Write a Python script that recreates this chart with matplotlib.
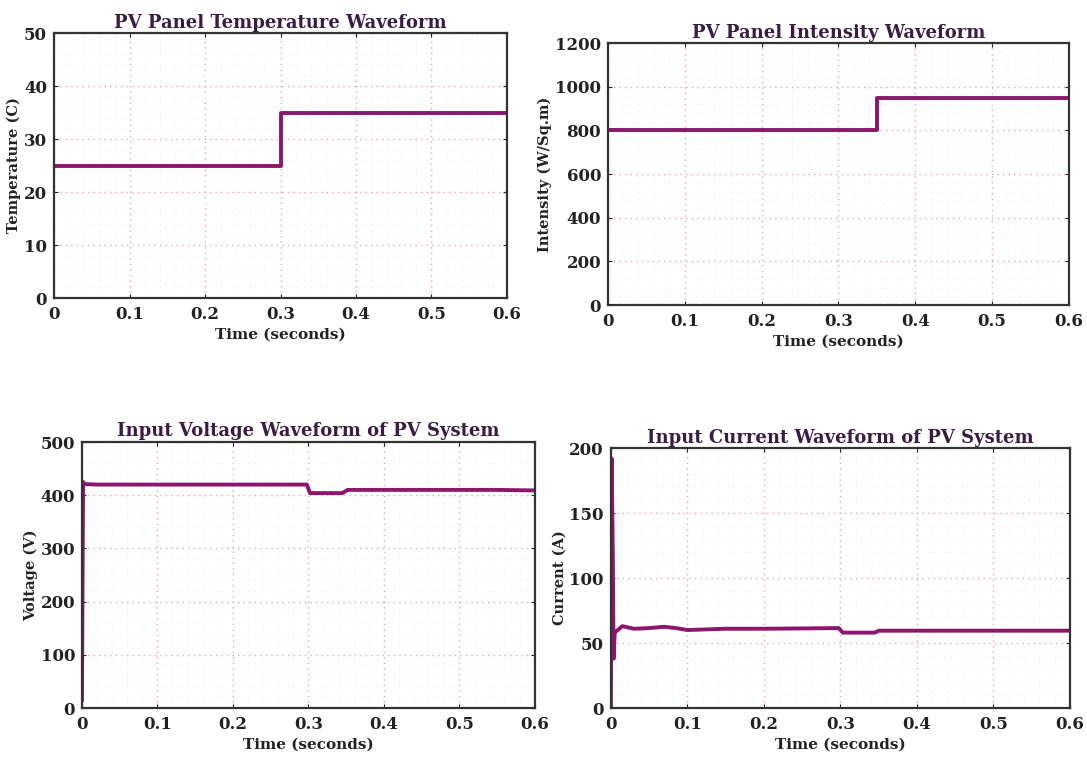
import matplotlib
matplotlib.use("Agg")
import matplotlib.pyplot as plt
from matplotlib.ticker import MultipleLocator

# temperature step
temp_t = [0, 0.3, 0.3, 0.6]
temp_v = [25, 25, 35, 35]

# irradiance step
int_t = [0, 0.35, 0.35, 0.6]
int_v = [800, 800, 950, 950]

# input voltage
volt_t = [0, 0.0015, 0.003, 0.02, 0.1, 0.2, 0.298, 0.302, 0.345, 0.352, 0.45, 0.55, 0.6]
volt_v = [15, 425, 421, 420, 420, 420, 420, 404, 404, 410, 410, 410, 409]

# input current
curr_t = [0, 0.001, 0.0025, 0.0035, 0.005, 0.015, 0.03, 0.05, 0.07, 0.085, 0.1, 0.15, 0.2,
          0.298, 0.303, 0.345, 0.35, 0.45, 0.6]
curr_v = [0, 192, 120, 38, 58, 63, 61, 61.5, 62.5, 61.5, 60, 61, 61,
          61.5, 58, 58, 59.5, 59.5, 59.5]

x_ticks = [0, 0.1, 0.2, 0.3, 0.4, 0.5, 0.6]
x_labels = ["0", "0.1", "0.2", "0.3", "0.4", "0.5", "0.6"]

LINE = "#8c166e"
TXT = "#222222"
TITLE = "#3a1d45"
FONT = "DejaVu Serif"

plt.rcParams["font.family"] = FONT
plt.rcParams["font.weight"] = "bold"

fig = plt.figure(figsize=(10.87, 7.57), dpi=100)


def style(ax, title, ylabel, ymax, ystep):
    ax.set_xlim(0, 0.6)
    ax.set_ylim(0, ymax)
    ax.set_xticks(x_ticks)
    ax.set_xticklabels(x_labels)
    ax.yaxis.set_major_locator(MultipleLocator(ystep))
    ax.xaxis.set_minor_locator(MultipleLocator(0.02))
    ax.yaxis.set_minor_locator(MultipleLocator(ystep / 5))
    ax.grid(which="major", linestyle=(0, (1, 3)), color="#e3a3bb", linewidth=1.0)
    ax.grid(which="minor", linestyle=(0, (1, 4)), color="#f6eef2", linewidth=0.8)
    ax.set_axisbelow(True)
    ax.tick_params(which="both", direction="in", top=True, right=True,
                   labelsize=12, colors=TXT)
    ax.tick_params(axis="x", pad=6)
    ax.tick_params(axis="y", pad=5)
    ax.tick_params(which="minor", length=0)
    ax.tick_params(which="major", length=3)
    for s in ax.spines.values():
        s.set_linewidth(1.6)
        s.set_color("#333333")
    ax.set_title(title, fontsize=13, fontweight="bold", color=TITLE, pad=4)
    ax.set_xlabel("Time (seconds)", fontsize=11, fontweight="bold", color=TXT, labelpad=3)
    ax.set_ylabel(ylabel, fontsize=10.5, fontweight="bold", color=TXT, labelpad=2)


ax1 = fig.add_axes([0.0497, 0.6063, 0.4167, 0.350])
ax1.plot(temp_t, temp_v, color=LINE, linewidth=2.8)
style(ax1, "PV Panel Temperature Waveform", "Temperature (C)", 50, 10)

ax2 = fig.add_axes([0.5593, 0.597, 0.424, 0.346])
ax2.plot(int_t, int_v, color=LINE, linewidth=2.8)
style(ax2, "PV Panel Intensity Waveform", "Intensity (W/Sq.m)", 1200, 200)

ax3 = fig.add_axes([0.0754, 0.0647, 0.4167, 0.3514])
ax3.plot(volt_t, volt_v, color=LINE, linewidth=2.8)
style(ax3, "Input Voltage Waveform of PV System", "Voltage (V)", 500, 100)

ax4 = fig.add_axes([0.562, 0.0647, 0.4223, 0.3434])
ax4.plot(curr_t, curr_v, color=LINE, linewidth=2.8)
style(ax4, "Input Current Waveform of PV System", "Current (A)", 200, 50)

fig.savefig("out.png", dpi=100, facecolor="white")
